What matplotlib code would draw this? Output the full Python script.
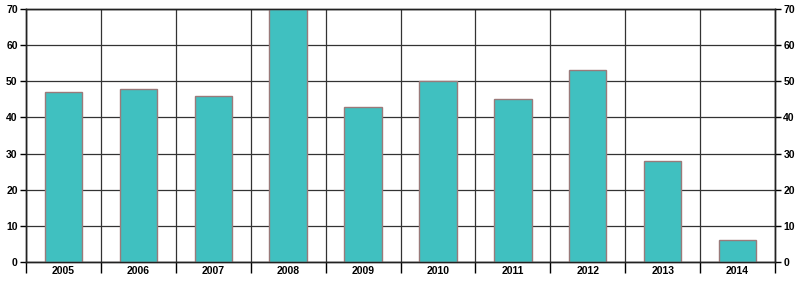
import numpy as np
import matplotlib
matplotlib.use("Agg")
import matplotlib.pyplot as plt

# data
years = ['2005', '2006', '2007', '2008', '2009', '2010', '2011', '2012', '2013', '2014']
values = [47, 48, 46, 70, 43, 50, 45, 53, 28, 6]

plt.rcParams['font.family'] = ['Liberation Sans', 'DejaVu Sans']

fig = plt.figure(figsize=(8, 2.86), dpi=100)
ax = fig.add_axes([0.0325, 0.0839, 0.93625, 0.8846])

x = np.arange(len(years))
ax.bar(x, values, width=0.5, color='#40C0C0', edgecolor='#9A7A7A', linewidth=1.0, zorder=3)

ax.set_xlim(-0.5, len(years) - 0.5)
ax.set_ylim(0, 70)
ax.set_yticks(np.arange(0, 71, 10))
ax.yaxis.grid(True, color='#333333', linewidth=0.9, zorder=0)

# vertical lines at category boundaries, labels at centres
bounds = np.arange(-0.5, len(years), 1.0)
ax.set_xticks(bounds)
ax.set_xticklabels([])
ax.tick_params(axis='x', which='major', length=8, width=1.0, color='black')
ax.set_xticks(x, minor=True)
ax.set_xticklabels(years, minor=True, fontsize=7.5, fontweight='bold')
ax.tick_params(axis='x', which='minor', length=0, pad=3)
ax.xaxis.grid(True, which='major', color='#333333', linewidth=0.9, zorder=0)

ax.tick_params(axis='y', length=4, width=1.0, labelsize=7.5, pad=2)
for lab in ax.get_yticklabels():
    lab.set_fontweight('bold')

ax2 = ax.twinx()
ax2.set_ylim(0, 70)
ax2.set_yticks(np.arange(0, 71, 10))
ax2.tick_params(axis='y', length=4, width=1.0, labelsize=7.5, pad=2)
for lab in ax2.get_yticklabels():
    lab.set_fontweight('bold')

for a in (ax, ax2):
    for s in a.spines.values():
        s.set_color('#222222')
        s.set_linewidth(1.0)

fig.savefig('out.png', dpi=100)
